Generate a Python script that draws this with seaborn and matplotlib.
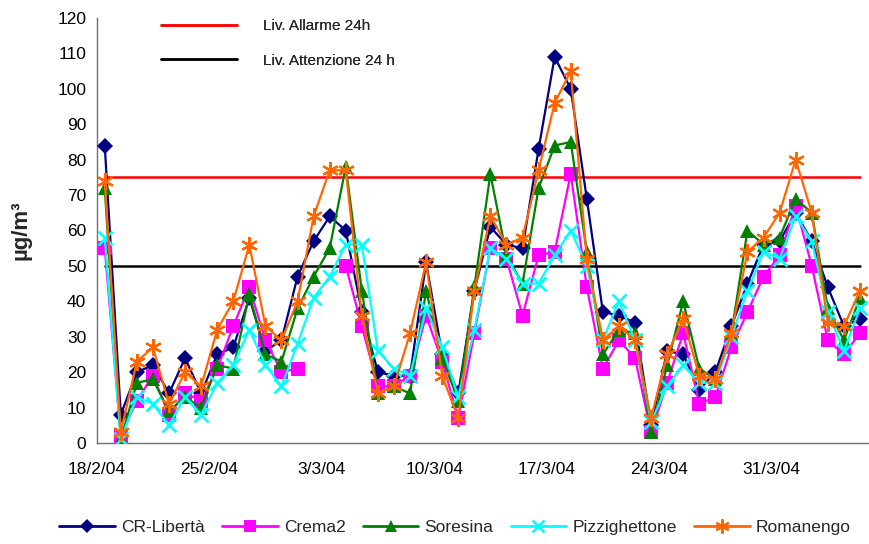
import numpy as np
import pandas as pd
import seaborn as sns
import matplotlib
matplotlib.use("Agg")
import matplotlib.pyplot as plt
from matplotlib.lines import Line2D
from matplotlib.ticker import MultipleLocator, FixedLocator

nan = np.nan
tick_labels = ["18/2/04", "25/2/04", "3/3/04", "10/3/04", "17/3/04", "24/3/04", "31/3/04"]
series_names = ["CR-Libertà", "Crema2", "Soresina", "Pizzighettone", "Romanengo"]

cr_liberta = [84, 8, 20, 22, 14, 24, 14, 25, 27, 41, 26, 29, 47, 57, 64, 60, 37, 20, 19, 19,
              51, 25, 14, 43, 61, 56, 55, 83, 109, 100, 69, 37, 36, 34, 5, 26, 25, 15, 20, 33,
              45, 56, 57, 65, 57, 44, 33, 35]
crema2 = [55, 2, 12, 19, 8, 14, 12, 21, 33, 44, 29, 20, 21, nan, nan, 50, 33, 16, 16, 19,
          36, 23, 7, 31, 55, 52, 36, 53, 54, 76, 44, 21, 29, 24, 3, 17, 31, 11, 13, 27,
          37, 47, 53, 67, 50, 29, 25, 31]
soresina = [72, 1, 17, 18, 9, 13, 10, 22, 21, 42, 25, 23, 38, 47, 55, 78, 43, 14, 16, 14,
            43, 24, 12, 44, 76, 53, 45, 72, 84, 85, 54, 25, 32, 31, 3, 22, 40, 21, 18, 31,
            60, 56, 58, 69, 65, 38, 29, 41]
pizzighettone = [58, 1, 13, 11, 5, 13, 8, 17, 22, 32, 22, 16, 28, 41, 47, 56, 56, 26, 21, 19,
                 38, 27, 13, 32, 55, 52, 45, 45, 53, 60, 50, 29, 40, 29, 6, 16, 22, 17, 17, 30,
                 43, 54, 52, 64, 57, 37, 26, 38]
romanengo = [74, 3, 23, 27, 11, 20, 16, 32, 40, 56, 33, 29, 40, 64, 77, 77, 36, 14, 16, 31,
             51, 19, 7, 43, 64, 56, 58, 77, 96, 105, 52, 29, 33, 29, 7, 25, 35, 19, 18, 31,
             54, 58, 65, 80, 65, 34, 33, 43]

liv_allarme = 75
liv_attenzione = 50
ref_labels = ["Liv. Allarme 24h", "Liv. Attenzione 24 h"]

all_series = [cr_liberta, crema2, soresina, pizzighettone, romanengo]
n_days = len(cr_liberta)

# long table, with segment ids so that missing days leave a gap
rows = []
for name, vals in zip(series_names, all_series):
    seg = 0
    for i, v in enumerate(vals):
        if v is None or (isinstance(v, float) and np.isnan(v)):
            seg += 1
            continue
        rows.append(dict(series=name, day=i + 0.5, value=v, seg=seg))
df = pd.DataFrame(rows)

ref_df = pd.DataFrame({"day": [0.5, n_days - 0.5, 0.5, n_days - 0.5],
                       "value": [liv_allarme, liv_allarme, liv_attenzione, liv_attenzione],
                       "line": [ref_labels[0], ref_labels[0], ref_labels[1], ref_labels[1]]})

sns.set_theme(style="white")
plt.rcParams["font.family"] = ["Liberation Sans", "DejaVu Sans"]

fig = plt.figure(figsize=(8.69, 5.44), dpi=100)
ax = fig.add_axes([96.7 / 869, 1 - 443 / 544, (868 - 96.7) / 869, (443 - 18) / 544])

ref_colors = {ref_labels[0]: "#ff0000", ref_labels[1]: "#000000"}
sns.lineplot(data=ref_df, x="day", y="value", hue="line", palette=ref_colors,
             linewidth=1.8, ax=ax, legend=False, estimator=None, units="line")

styles = {
    "CR-Libertà": dict(color="#000080", marker="D", ms=8.5, mew=0),
    "Crema2": dict(color="#ff00ff", marker="s", ms=10, mew=0),
    "Soresina": dict(color="#008000", marker="^", ms=10.5, mew=0),
    "Pizzighettone": dict(color="#00ffff", marker="x", ms=10, mew=1.9),
    "Romanengo": dict(color="#ff6600", marker=(6, 2, 0), ms=12, mew=1.6),
}

for k, name in enumerate(series_names):
    st = styles[name]
    sub = df[df.series == name]
    sns.lineplot(data=sub, x="day", y="value", units="seg", estimator=None,
                 color=st["color"], marker=st["marker"], markersize=st["ms"],
                 markeredgewidth=st["mew"], markeredgecolor=st["color"],
                 markerfacecolor=st["color"], linewidth=1.6, ax=ax, legend=False,
                 zorder=3 + k)

ax.set_xlim(0, n_days)
ax.set_ylim(0, 120)
ax.xaxis.set_major_locator(FixedLocator([7 * i for i in range(len(tick_labels))]))
ax.set_xticklabels(tick_labels)
ax.xaxis.set_minor_locator(MultipleLocator(1))
ax.yaxis.set_major_locator(MultipleLocator(10))
ax.yaxis.set_minor_locator(MultipleLocator(5))

for s in ["top", "right"]:
    ax.spines[s].set_visible(False)
for s in ["left", "bottom"]:
    ax.spines[s].set_color("#707070")
    ax.spines[s].set_linewidth(1.0)

ax.tick_params(axis="both", which="major", direction="inout", length=9, width=1,
               color="#707070", labelsize=12.5, labelcolor="black")
ax.tick_params(axis="both", which="minor", direction="in", length=5, width=1,
               color="#707070")
ax.tick_params(axis="x", which="major", pad=9)
ax.tick_params(axis="y", which="major", pad=3)

ax.set_xlabel("")
ax.set_ylabel("µg/m³", fontsize=16, fontweight="bold")
ax.yaxis.set_label_coords(-0.085, 0.5)

# top legend for the reference levels
ref_handles = [Line2D([], [], color="#ff0000", lw=1.8), Line2D([], [], color="#000000", lw=1.8)]
leg1 = ax.legend(ref_handles, ref_labels, loc="upper left",
                 bbox_to_anchor=(161 / 869, 1 - 19 / 544), bbox_transform=fig.transFigure,
                 frameon=False, fontsize=11, handlelength=5.0, handletextpad=1.7,
                 labelspacing=1.35, borderpad=0, borderaxespad=0)
ax.add_artist(leg1)

# bottom legend for the stations
handles = []
for name in series_names:
    st = styles[name]
    handles.append(Line2D([], [], color=st["color"], marker=st["marker"], markersize=st["ms"] * 0.85,
                          markeredgewidth=st["mew"], markeredgecolor=st["color"],
                          markerfacecolor=st["color"], lw=2))
fig.legend(handles, series_names, loc="center", bbox_to_anchor=(455 / 869, 1 - 527 / 544),
           ncol=5, frameon=False, fontsize=12.5, handlelength=3.2, handletextpad=0.35,
           columnspacing=1.0, borderpad=0)

fig.savefig("out.png", dpi=100)
